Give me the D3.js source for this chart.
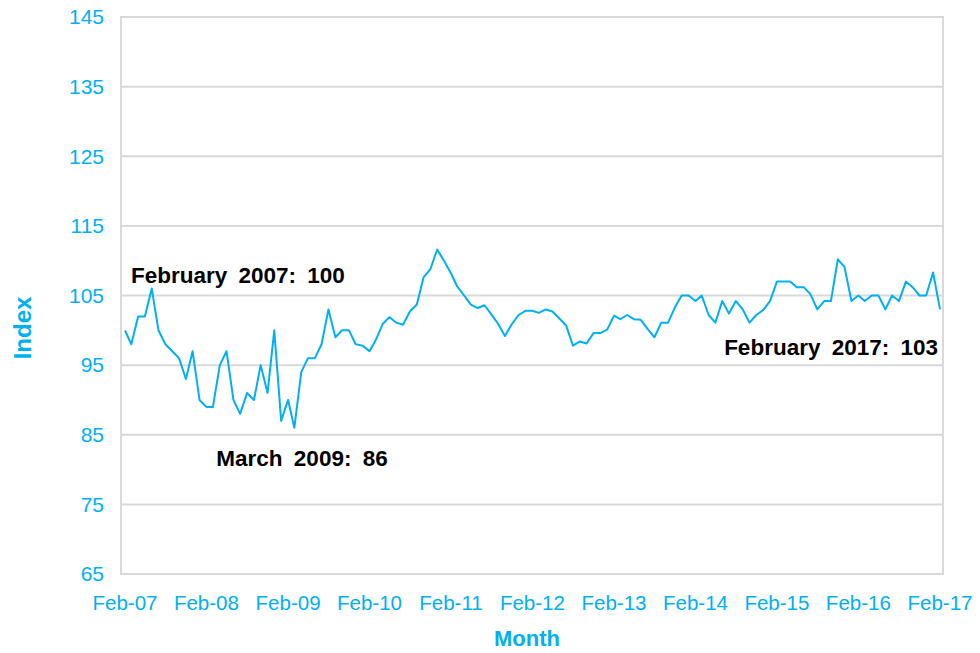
<!DOCTYPE html>
<html>
<head>
<meta charset="utf-8">
<script src="https://cdn.jsdelivr.net/npm/d3@7/dist/d3.min.js"></script>
<style>
  body { margin: 0; background: #fff; }
  text { font-family: Arial, "Liberation Sans", sans-serif; }
</style>
</head>
<body>
<div id="chart"></div>
<script>
// monthly index, Feb 2007 .. Feb 2017
var startMonth = new Date(2007, 1, 1);
var values = [
  100, 98, 102, 102, 106, 100, 98, 97, 96, 93,
  97, 90, 89, 89, 95, 97, 90, 88, 91, 90,
  95, 91, 100, 87, 90, 86, 94, 96, 96, 98,
  103, 99, 100, 100, 98, 97.8, 97, 98.6, 100.9, 101.9,
  101.1, 100.8, 102.7, 103.7, 107.6, 108.8, 111.6, 110, 108.2, 106.3,
  105, 103.7, 103.2, 103.6, 102.3, 100.9, 99.2, 100.9, 102.2, 102.8,
  102.8, 102.5, 103, 102.7, 101.7, 100.7, 97.8, 98.4, 98.1, 99.6,
  99.6, 100.1, 102.1, 101.6, 102.2, 101.6, 101.5, 100.2, 99, 101.1,
  101.1, 103.3, 105, 105, 104.2, 105, 102.2, 101.1, 104.2, 102.4,
  104.2, 103, 101.1, 102.2, 102.9, 104.2, 107, 107, 107, 106.2,
  106.2, 105.2, 103, 104.2, 104.2, 110.2, 109.1, 104.2, 105, 104.2,
  105, 105, 103, 105, 104.2, 107, 106.2, 105, 105, 108.3, 103
];
var months = values.map(function(d, i) { return d3.timeMonth.offset(startMonth, i); });
var xTickLabels = ["Feb-07", "Feb-08", "Feb-09", "Feb-10", "Feb-11", "Feb-12",
  "Feb-13", "Feb-14", "Feb-15", "Feb-16", "Feb-17"];
var yTicks = [65, 75, 85, 95, 105, 115, 125, 135, 145];
var notes = [
  { label: "February 2007: 100", idx: 0, anchor: "start", dx: 6, dy: -47 },
  { label: "March 2009: 86", idx: 25, anchor: "start", dx: -78, dy: 38 },
  { label: "February 2017: 103", idx: 120, anchor: "end", dx: -2, dy: 46 }
];

var width = 980, height = 653;
var blue = "#00b0f0", grid = "#d9d9d9";
var plot = { left: 121, right: 943, top: 17, bottom: 574 };

var svg = d3.select("#chart").append("svg")
  .attr("width", width)
  .attr("height", height);

var x = d3.scaleTime()
  .domain([months[0], months[months.length - 1]])
  .range([125, 940]);

var y = d3.scaleLinear()
  .domain([65, 145])
  .range([plot.bottom, plot.top]);

// gridlines
svg.append("g").selectAll("line")
  .data(yTicks)
  .enter().append("line")
  .attr("x1", plot.left)
  .attr("x2", plot.right)
  .attr("y1", function(d) { return y(d); })
  .attr("y2", function(d) { return y(d); })
  .attr("stroke", grid)
  .attr("stroke-width", 2);

// plot border
svg.append("rect")
  .attr("x", plot.left)
  .attr("y", plot.top)
  .attr("width", plot.right - plot.left)
  .attr("height", plot.bottom - plot.top)
  .attr("fill", "none")
  .attr("stroke", grid)
  .attr("stroke-width", 2);

// y labels
svg.append("g").selectAll("text")
  .data(yTicks)
  .enter().append("text")
  .attr("x", 104)
  .attr("y", function(d) { return y(d); })
  .attr("dy", "0.35em")
  .attr("text-anchor", "end")
  .attr("fill", blue)
  .style("font-size", "21px")
  .text(function(d) { return d; });

// x labels, one per year
svg.append("g").selectAll("text")
  .data(xTickLabels)
  .enter().append("text")
  .attr("x", function(d, i) { return x(months[i * 12]); })
  .attr("y", 610)
  .attr("text-anchor", "middle")
  .attr("fill", blue)
  .style("font-size", "20.5px")
  .text(function(d) { return d; });

var line = d3.line()
  .x(function(d, i) { return x(months[i]); })
  .y(function(d) { return y(d); });

svg.append("path")
  .datum(values)
  .attr("d", line)
  .attr("fill", "none")
  .attr("stroke", blue)
  .attr("stroke-width", 2)
  .attr("stroke-linejoin", "round");

// annotations
svg.append("g").selectAll("text")
  .data(notes)
  .enter().append("text")
  .attr("x", function(d) { return x(months[d.idx]) + d.dx; })
  .attr("y", function(d) { return y(values[d.idx]) + d.dy; })
  .attr("text-anchor", function(d) { return d.anchor; })
  .attr("fill", "#000")
  .style("font-size", "22.5px")
  .style("font-weight", "bold")
  .style("word-spacing", "5px")
  .text(function(d) { return d.label; });

// axis titles
svg.append("text")
  .attr("x", 527)
  .attr("y", 646)
  .attr("text-anchor", "middle")
  .attr("fill", blue)
  .style("font-size", "22px")
  .style("font-weight", "bold")
  .text("Month");

svg.append("text")
  .attr("transform", "translate(31,328) rotate(-90)")
  .attr("text-anchor", "middle")
  .attr("fill", blue)
  .style("font-size", "24px")
  .style("font-weight", "bold")
  .text("Index");
</script>
</body>
</html>
